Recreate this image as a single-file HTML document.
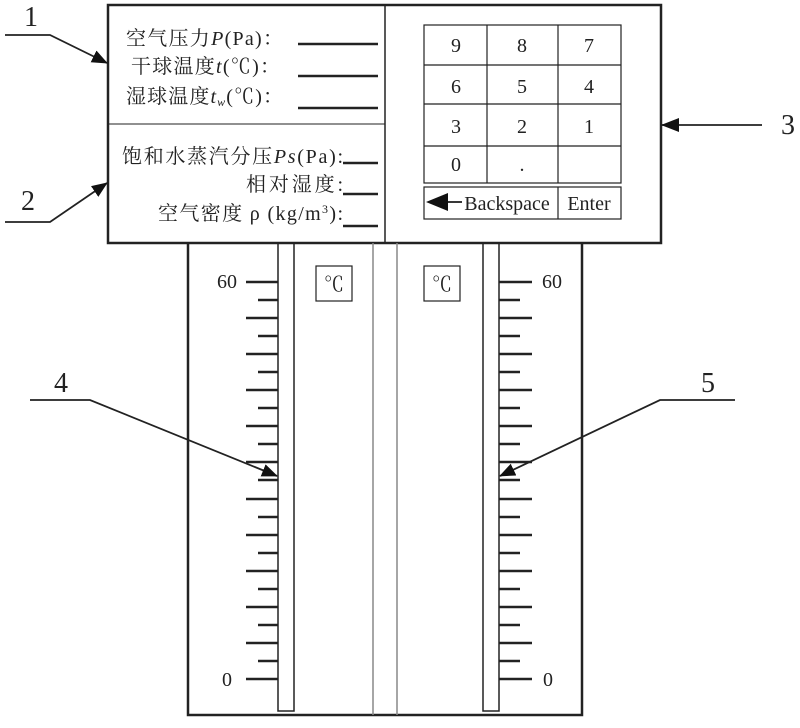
<!DOCTYPE html>
<html><head><meta charset="utf-8"><style>
body{margin:0;background:#fff}
svg text{font-family:"Liberation Serif","Noto Serif CJK SC",serif;fill:#222}
</style></head><body>
<svg width="800" height="723" viewBox="0 0 800 723" xmlns="http://www.w3.org/2000/svg">
<defs><marker id="ah" markerWidth="16" markerHeight="13" refX="15" refY="6.5" orient="auto" markerUnits="userSpaceOnUse"><path d="M0,0 L16,6.5 L0,13 Z" fill="#111"/></marker>
<marker id="ah2" markerWidth="18" markerHeight="14" refX="17" refY="7" orient="auto" markerUnits="userSpaceOnUse"><path d="M0,0 L18,7 L0,14 Z" fill="#111"/></marker></defs>
<g stroke="#222" fill="none">
<rect x="108" y="5" width="553" height="238" stroke-width="2.5"/>
<line x1="385" y1="5" x2="385" y2="243" stroke-width="1.5"/>
<line x1="108" y1="124" x2="385" y2="124" stroke-width="1"/>
<g stroke-width="2.5">
<line x1="298" y1="44" x2="378" y2="44"/><line x1="298" y1="76" x2="378" y2="76"/><line x1="298" y1="108" x2="378" y2="108"/>
<line x1="343" y1="163" x2="378" y2="163"/><line x1="343" y1="194" x2="378" y2="194"/><line x1="343" y1="226" x2="378" y2="226"/>
</g>
<g stroke-width="1.2">
<rect x="424" y="25" width="197" height="158"/>
<line x1="487" y1="25" x2="487" y2="183"/><line x1="558" y1="25" x2="558" y2="183"/>
<line x1="424" y1="65" x2="621" y2="65"/><line x1="424" y1="104" x2="621" y2="104"/><line x1="424" y1="146" x2="621" y2="146"/>
<rect x="424" y="187" width="197" height="32"/><line x1="558" y1="187" x2="558" y2="219"/>
</g>
<path d="M188,243 V715 H582 V243" stroke-width="2.5"/>
<rect x="278" y="243" width="16" height="468" stroke-width="1.5"/>
<rect x="483" y="243" width="16" height="468" stroke-width="1.5"/>
<line x1="373" y1="243" x2="373" y2="715" stroke="#888" stroke-width="1.5"/>
<line x1="397" y1="243" x2="397" y2="715" stroke="#888" stroke-width="1.5"/>
<rect x="316" y="266" width="36" height="35" stroke-width="1.2"/>
<rect x="424" y="266" width="36" height="35" stroke-width="1.2"/>
<g stroke-width="1.8">
<polyline points="5,35 50,35 107,63" marker-end="url(#ah)"/>
<polyline points="5,222 50,222 107,183" marker-end="url(#ah)"/>
<line x1="762" y1="125" x2="662" y2="125" marker-end="url(#ah2)"/>
<polyline points="30,400 90,400 277,476" marker-end="url(#ah)"/>
<polyline points="735,400 660,400 500,476" marker-end="url(#ah)"/>
<line x1="448" y1="202" x2="462" y2="202"/>
</g>
</g>
<path d="M426,202 L448,193 L448,211 Z" fill="#111"/>
<g font-size="20">
<text x="126" y="45" textLength="157" lengthAdjust="spacing">空气压力<tspan font-style="italic">P</tspan>(Pa)：</text>
<text x="131" y="73" textLength="149" lengthAdjust="spacing">干球温度<tspan font-style="italic">t</tspan>(℃)：</text>
<text x="126" y="103" textLength="157" lengthAdjust="spacing">湿球温度<tspan font-style="italic">t<tspan font-size="12" dy="3">w</tspan></tspan><tspan dy="-3">(℃)：</tspan></text>
<text x="122" y="163" textLength="221" lengthAdjust="spacing">饱和水蒸汽分压<tspan font-style="italic">Ps</tspan>(Pa):</text>
<text x="246" y="191" textLength="97" lengthAdjust="spacing">相对湿度:</text>
<text x="158" y="220" textLength="185" lengthAdjust="spacing">空气密度 ρ (kg/m<tspan font-size="12" dy="-7">3</tspan><tspan dy="7">):</tspan></text>
</g>
<g font-size="20" text-anchor="middle">
<text x="456" y="52">9</text><text x="522" y="52">8</text><text x="589" y="52">7</text>
<text x="456" y="93">6</text><text x="522" y="93">5</text><text x="589" y="93">4</text>
<text x="456" y="133">3</text><text x="522" y="133">2</text><text x="589" y="133">1</text>
<text x="456" y="171">0</text><text x="522" y="171">.</text>
<text x="507" y="210">Backspace</text><text x="589" y="210">Enter</text>
<text x="334" y="291">℃</text><text x="442" y="291">℃</text>
<text x="227" y="288">60</text><text x="552" y="288">60</text>
<text x="227" y="686">0</text><text x="548" y="686">0</text>
</g>
<g font-size="28" text-anchor="middle">
<text x="31" y="26">1</text><text x="28" y="210">2</text><text x="788" y="134">3</text>
<text x="61" y="392">4</text><text x="708" y="392">5</text>
</g>
<g stroke="#222" stroke-width="2.5">
<line x1="246" y1="282" x2="278" y2="282"/><line x1="499" y1="282" x2="532" y2="282"/>
<line x1="258" y1="300" x2="278" y2="300"/><line x1="499" y1="300" x2="520" y2="300"/>
<line x1="246" y1="318" x2="278" y2="318"/><line x1="499" y1="318" x2="532" y2="318"/>
<line x1="258" y1="336" x2="278" y2="336"/><line x1="499" y1="336" x2="520" y2="336"/>
<line x1="246" y1="354" x2="278" y2="354"/><line x1="499" y1="354" x2="532" y2="354"/>
<line x1="258" y1="372" x2="278" y2="372"/><line x1="499" y1="372" x2="520" y2="372"/>
<line x1="246" y1="390" x2="278" y2="390"/><line x1="499" y1="390" x2="532" y2="390"/>
<line x1="258" y1="408" x2="278" y2="408"/><line x1="499" y1="408" x2="520" y2="408"/>
<line x1="246" y1="426" x2="278" y2="426"/><line x1="499" y1="426" x2="532" y2="426"/>
<line x1="258" y1="444" x2="278" y2="444"/><line x1="499" y1="444" x2="520" y2="444"/>
<line x1="246" y1="462" x2="278" y2="462"/><line x1="499" y1="462" x2="532" y2="462"/>
<line x1="258" y1="480" x2="278" y2="480"/><line x1="499" y1="480" x2="520" y2="480"/>
<line x1="246" y1="499" x2="278" y2="499"/><line x1="499" y1="499" x2="532" y2="499"/>
<line x1="258" y1="517" x2="278" y2="517"/><line x1="499" y1="517" x2="520" y2="517"/>
<line x1="246" y1="535" x2="278" y2="535"/><line x1="499" y1="535" x2="532" y2="535"/>
<line x1="258" y1="553" x2="278" y2="553"/><line x1="499" y1="553" x2="520" y2="553"/>
<line x1="246" y1="571" x2="278" y2="571"/><line x1="499" y1="571" x2="532" y2="571"/>
<line x1="258" y1="589" x2="278" y2="589"/><line x1="499" y1="589" x2="520" y2="589"/>
<line x1="246" y1="607" x2="278" y2="607"/><line x1="499" y1="607" x2="532" y2="607"/>
<line x1="258" y1="625" x2="278" y2="625"/><line x1="499" y1="625" x2="520" y2="625"/>
<line x1="246" y1="643" x2="278" y2="643"/><line x1="499" y1="643" x2="532" y2="643"/>
<line x1="258" y1="661" x2="278" y2="661"/><line x1="499" y1="661" x2="520" y2="661"/>
<line x1="246" y1="679" x2="278" y2="679"/><line x1="499" y1="679" x2="532" y2="679"/>
</g>
</svg>
</body></html>
